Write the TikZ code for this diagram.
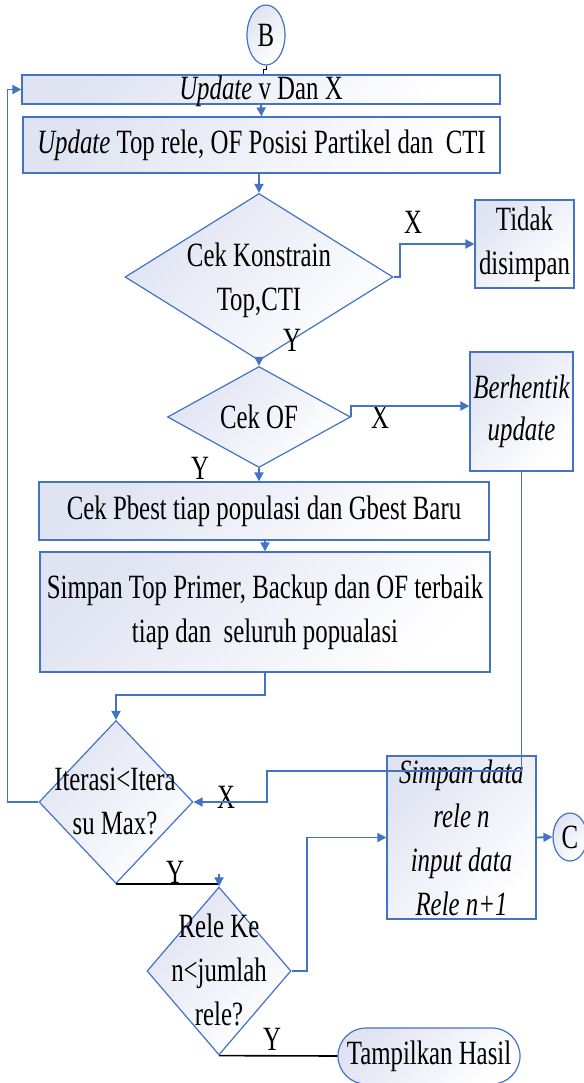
\documentclass[tikz,border=0pt]{standalone}
\usepackage{fontspec}
\setmainfont{Liberation Serif}[FakeStretch=0.73]
\usetikzlibrary{shapes.geometric,arrows.meta,calc}
\definecolor{fc}{HTML}{4472C4}
\definecolor{lav}{HTML}{E0E3F2}
\begin{document}
\begin{tikzpicture}[x=1pt,y=-1pt,
  every node/.style={font=\fontsize{34}{44}\selectfont, inner sep=0pt},
  shp/.style={draw=fc, line width=1.2pt, top color=lav, bottom color=white, shading angle=45},
  conn/.style={draw=fc, line width=1.8pt, -{Triangle[length=9pt,width=9pt]}},
  bline/.style={draw=fc, line width=1.8pt},
  blk/.style={draw=black, line width=1.6pt},
  lbl/.style={inner sep=0pt}]
\useasboundingbox (0,0) rectangle (583,1083);

% nodes
\node[shp, ellipse, minimum width=38pt, minimum height=60pt] (B) at (266,35) {B};
\node[shp, rectangle, minimum width=478pt, minimum height=29pt, text height=25pt, text depth=4pt] (u1) at (261,89.5) {\textit{Update} v Dan X};
\node[shp, rectangle, minimum width=477pt, minimum height=56pt] (u2) at (261.5,145) {\textit{Update} Top rele, OF Posisi Partikel dan\ \ CTI};
\node[shp, diamond, minimum width=268pt, minimum height=167pt] (d1) at (259,277) {};
\node[align=center] (t1) at (259,280) {Cek Konstrain\\Top,CTI};
\node[shp, rectangle, minimum width=99pt, minimum height=88pt, align=center] (tidak) at (524.5,244) {Tidak\\disimpan};
\node[shp, diamond, minimum width=183pt, minimum height=101pt] (d2) at (259,417) {};
\node (t2) at (259,417) {Cek OF};
\node[shp, rectangle, minimum width=103pt, minimum height=119pt, align=center, font=\fontsize{34}{42}\selectfont\itshape] (berh) at (521.5,411.5) {Berhentik\\update};
\node[shp, rectangle, minimum width=450pt, minimum height=58pt] (pbest) at (264,511) {Cek Pbest tiap populasi dan Gbest Baru};
\node[shp, rectangle, minimum width=450pt, minimum height=120pt, align=center] (simpan) at (265,612) {Simpan Top Primer, Backup dan OF terbaik\\tiap dan\ \ seluruh popualasi};
\node[shp, diamond, minimum width=154pt, minimum height=163pt] (d3) at (116,802) {};
\node[align=center] (t3) at (115,801) {Iterasi<Itera\\su Max?};
\node[shp, diamond, minimum width=144pt, minimum height=168pt] (d4) at (219,971) {};
\node[align=center] (t4) at (219,970) {Rele Ke\\n<jumlah\\rele?};
\node[shp, rectangle, minimum width=149pt, minimum height=163pt, align=center, font=\fontsize{34}{44}\selectfont\itshape] (sdata) at (461.5,837.5) {Simpan data\\rele n\\input data\\Rele n+1};
\node[shp, ellipse, minimum width=34pt, minimum height=48pt] (C) at (570,837) {C};
\node[shp, rectangle, rounded corners=28pt, minimum width=182pt, minimum height=56pt] (hasil) at (429,1056) {Tampilkan Hasil};

% labels
\node[lbl] (x1) at (413,222) {X};
\node[lbl] (y1) at (292,340) {Y};
\node[lbl] (x2) at (380,417) {X};
\node[lbl] (y2) at (200,468) {Y};
\node[lbl] (x3) at (226,797) {X};
\node[lbl] (y3) at (175,872) {Y};
\node[lbl] (y4) at (272,1039) {Y};

% connectors
\draw[black, line width=1pt] (B.south) -- ++(0,4) -| ($(u1.north)+(2,0)$);
\draw[conn] (u1.south) -- (u2.north);
\draw[conn] (u2.south -| d1.north) -- (d1.north);
\draw[conn] (d1.east) -- ++(6,0) |- (tidak.west);
\draw[conn] (d1.south) -- (d2.north);
\draw[conn] (d2.east) -- ++(0,-11) -- ($(berh.west)+(0,-5.5)$);
\draw[conn] (d2.south) -- (d2.south |- pbest.north);
\draw[conn] (pbest.south -| simpan.north) -- (simpan.north);
\draw[conn] (simpan.south) -- ++(0,22) -| (d3.north);
\draw[conn] (d3.west) -- ++(-31,0) |- (u1.west);
\draw[conn] (berh.south) -- ++(0,299.5) -- ++(-254.5,0) |- (d3.east);
\draw[blk] (d3.south) -- (d3.south -| d4.north);
\draw[conn] ($(d4.north)+(0,-12)$) -- (d4.north);
\draw[conn] (d4.east) -- ++(15,0) |- (sdata.west);
\draw[conn] (sdata.east) -- (C.west);
\draw[blk] (d4.south) -- (hasil.west);
\end{tikzpicture}
\end{document}
